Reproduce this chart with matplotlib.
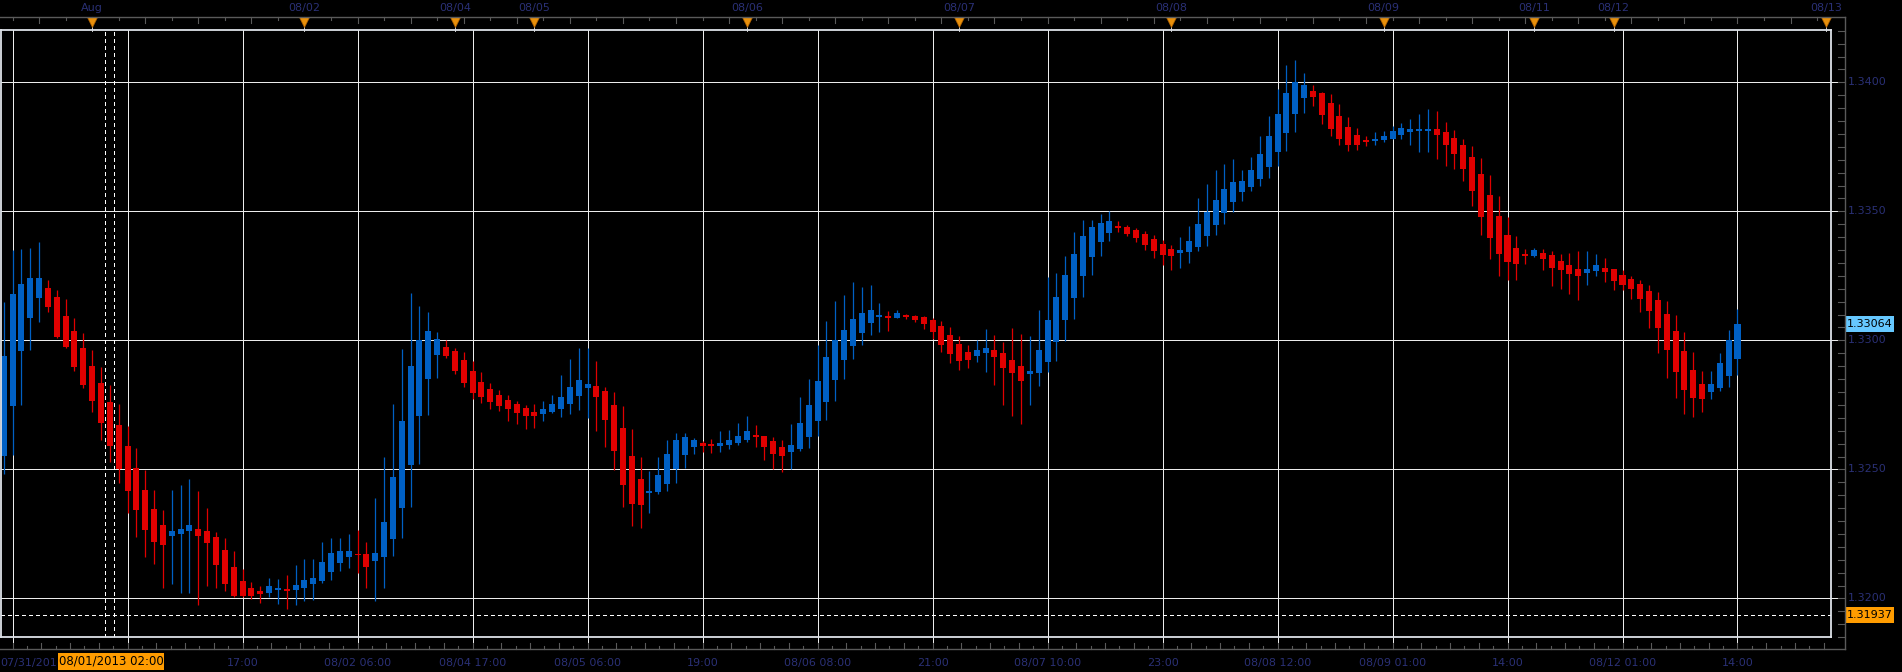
import numpy as np
import matplotlib
matplotlib.use("Agg")
import matplotlib.pyplot as plt
from matplotlib.transforms import blended_transform_factory as blend
from matplotlib.lines import Line2D
from matplotlib.patches import Rectangle

# hourly candles, first one is 07/31 14:00, last one 08/12 14:00
opens = [1.32552, 1.32745, 1.32959, 1.33087, 1.33164, 1.33202, 1.33167, 1.33093, 1.33035, 1.32969,
         1.32899, 1.32833, 1.32760, 1.32674, 1.32589, 1.32504, 1.32422, 1.32345, 1.32283, 1.32242,
         1.32249, 1.32261, 1.32271, 1.32260, 1.32240, 1.32186, 1.32120, 1.32066, 1.32039, 1.32027,
         1.32021, 1.32031, 1.32035, 1.32032, 1.32040, 1.32056, 1.32067, 1.32102, 1.32137, 1.32160,
         1.32171, 1.32171, 1.32145, 1.32160, 1.32230, 1.32350, 1.32517, 1.32707, 1.32850, 1.32943,
         1.32974, 1.32959, 1.32924, 1.32881, 1.32838, 1.32811, 1.32788, 1.32769, 1.32753, 1.32738,
         1.32722, 1.32716, 1.32722, 1.32735, 1.32755, 1.32786, 1.32817, 1.32823, 1.32804, 1.32749,
         1.32660, 1.32552, 1.32463, 1.32410, 1.32412, 1.32444, 1.32501, 1.32557, 1.32588, 1.32602,
         1.32598, 1.32592, 1.32596, 1.32603, 1.32615, 1.32633, 1.32629, 1.32610, 1.32587, 1.32568,
         1.32580, 1.32627, 1.32689, 1.32762, 1.32848, 1.32925, 1.32979, 1.33030, 1.33068, 1.33092,
         1.33094, 1.33088, 1.33098, 1.33094, 1.33090, 1.33079, 1.33056, 1.33021, 1.32986, 1.32955,
         1.32941, 1.32952, 1.32963, 1.32951, 1.32925, 1.32901, 1.32871, 1.32875, 1.32917, 1.32995,
         1.33079, 1.33165, 1.33251, 1.33324, 1.33382, 1.33417, 1.33443, 1.33439, 1.33428, 1.33412,
         1.33393, 1.33373, 1.33354, 1.33340, 1.33344, 1.33363, 1.33406, 1.33448, 1.33495, 1.33537,
         1.33576, 1.33596, 1.33627, 1.33673, 1.33731, 1.33805, 1.33879, 1.33941, 1.33966, 1.33959,
         1.33920, 1.33870, 1.33827, 1.33796, 1.33776, 1.33774, 1.33778, 1.33782, 1.33797, 1.33809,
         1.33813, 1.33813, 1.33819, 1.33807, 1.33784, 1.33757, 1.33711, 1.33645, 1.33563, 1.33482,
         1.33408, 1.33358, 1.33331, 1.33328, 1.33338, 1.33331, 1.33307, 1.33292, 1.33276, 1.33262,
         1.33270, 1.33280, 1.33276, 1.33253, 1.33238, 1.33218, 1.33191, 1.33156, 1.33102, 1.33036,
         1.32959, 1.32885, 1.32831, 1.32801, 1.32817, 1.32863, 1.32929]
highs = [1.33147, 1.33349, 1.33353, 1.33357, 1.33380, 1.33235, 1.33196, 1.33162, 1.33088, 1.33030,
         1.32964, 1.32895, 1.32829, 1.32755, 1.32669, 1.32584, 1.32499, 1.32419, 1.32341, 1.32422,
         1.32438, 1.32461, 1.32415, 1.32349, 1.32256, 1.32236, 1.32182, 1.32116, 1.32063, 1.32050,
         1.32078, 1.32074, 1.32089, 1.32128, 1.32151, 1.32151, 1.32217, 1.32236, 1.32236, 1.32248,
         1.32267, 1.32217, 1.32391, 1.32550, 1.32752, 1.32965, 1.33182, 1.33132, 1.33109, 1.33031,
         1.33001, 1.32970, 1.32955, 1.32920, 1.32877, 1.32835, 1.32807, 1.32788, 1.32765, 1.32749,
         1.32753, 1.32765, 1.32788, 1.32866, 1.32928, 1.32970, 1.32970, 1.32920, 1.32819, 1.32800,
         1.32745, 1.32656, 1.32548, 1.32494, 1.32548, 1.32614, 1.32641, 1.32641, 1.32621, 1.32610,
         1.32618, 1.32649, 1.32652, 1.32680, 1.32707, 1.32672, 1.32630, 1.32625, 1.32614, 1.32676,
         1.32780, 1.32850, 1.32982, 1.33075, 1.33152, 1.33176, 1.33226, 1.33208, 1.33216, 1.33146,
         1.33114, 1.33118, 1.33102, 1.33097, 1.33094, 1.33087, 1.33075, 1.33052, 1.33017, 1.32982,
         1.33003, 1.33044, 1.33022, 1.32994, 1.33048, 1.33025, 1.33017, 1.33118, 1.33247, 1.33261,
         1.33328, 1.33420, 1.33466, 1.33466, 1.33490, 1.33501, 1.33463, 1.33447, 1.33435, 1.33424,
         1.33408, 1.33389, 1.33370, 1.33401, 1.33443, 1.33552, 1.33606, 1.33660, 1.33683, 1.33703,
         1.33660, 1.33711, 1.33792, 1.33870, 1.33974, 1.34067, 1.34087, 1.34036, 1.33990, 1.33963,
         1.33955, 1.33916, 1.33866, 1.33823, 1.33792, 1.33807, 1.33811, 1.33831, 1.33842, 1.33858,
         1.33877, 1.33897, 1.33889, 1.33846, 1.33815, 1.33780, 1.33753, 1.33707, 1.33641, 1.33559,
         1.33478, 1.33404, 1.33354, 1.33358, 1.33354, 1.33346, 1.33335, 1.33339, 1.33346, 1.33346,
         1.33335, 1.33319, 1.33278, 1.33273, 1.33249, 1.33234, 1.33214, 1.33187, 1.33152, 1.33098,
         1.33032, 1.32955, 1.32881, 1.32881, 1.32951, 1.33040, 1.33121]
lows = [1.32483, 1.32554, 1.32749, 1.32963, 1.33071, 1.33110, 1.33010, 1.32970, 1.32881, 1.32815,
        1.32722, 1.32614, 1.32528, 1.32447, 1.32331, 1.32238, 1.32160, 1.32134, 1.32040, 1.32056,
        1.32021, 1.32021, 1.31974, 1.32048, 1.32040, 1.32028, 1.32007, 1.32005, 1.31997, 1.31982,
        1.32007, 1.31978, 1.31959, 1.31974, 1.31990, 1.31994, 1.32059, 1.32071, 1.32106, 1.32118,
        1.32098, 1.32040, 1.31990, 1.32040, 1.32164, 1.32234, 1.32354, 1.32521, 1.32711, 1.32854,
        1.32933, 1.32870, 1.32819, 1.32773, 1.32757, 1.32734, 1.32727, 1.32687, 1.32676, 1.32656,
        1.32660, 1.32687, 1.32718, 1.32703, 1.32714, 1.32730, 1.32700, 1.32649, 1.32588, 1.32497,
        1.32355, 1.32282, 1.32274, 1.32332, 1.32406, 1.32417, 1.32448, 1.32506, 1.32561, 1.32568,
        1.32565, 1.32568, 1.32580, 1.32596, 1.32607, 1.32588, 1.32537, 1.32503, 1.32491, 1.32503,
        1.32572, 1.32584, 1.32630, 1.32693, 1.32766, 1.32851, 1.32929, 1.32983, 1.33022, 1.33034,
        1.33037, 1.33085, 1.33084, 1.33072, 1.33045, 1.33006, 1.32956, 1.32913, 1.32886, 1.32894,
        1.32917, 1.32879, 1.32828, 1.32751, 1.32708, 1.32677, 1.32751, 1.32824, 1.32879, 1.32921,
        1.32999, 1.33084, 1.33169, 1.33255, 1.33328, 1.33386, 1.33421, 1.33406, 1.33382, 1.33351,
        1.33320, 1.33293, 1.33274, 1.33282, 1.33301, 1.33348, 1.33367, 1.33410, 1.33452, 1.33499,
        1.33541, 1.33580, 1.33599, 1.33630, 1.33677, 1.33735, 1.33809, 1.33882, 1.33910, 1.33840,
        1.33793, 1.33758, 1.33735, 1.33739, 1.33755, 1.33758, 1.33770, 1.33780, 1.33782, 1.33758,
        1.33731, 1.33731, 1.33704, 1.33677, 1.33665, 1.33619, 1.33522, 1.33410, 1.33317, 1.33251,
        1.33235, 1.33235, 1.33297, 1.33324, 1.33274, 1.33212, 1.33200, 1.33181, 1.33158, 1.33216,
        1.33251, 1.33227, 1.33196, 1.33196, 1.33162, 1.33111, 1.33049, 1.32952, 1.32855, 1.32778,
        1.32716, 1.32704, 1.32724, 1.32774, 1.32805, 1.32820, 1.32867]
closes = [1.32938, 1.33178, 1.33217, 1.33240, 1.33240, 1.33129, 1.33013, 1.32974, 1.32897, 1.32827,
          1.32765, 1.32680, 1.32590, 1.32501, 1.32416, 1.32342, 1.32265, 1.32218, 1.32207, 1.32260,
          1.32271, 1.32283, 1.32242, 1.32214, 1.32129, 1.32056, 1.32009, 1.32009, 1.32009, 1.32017,
          1.32047, 1.32039, 1.32028, 1.32054, 1.32070, 1.32078, 1.32140, 1.32178, 1.32182, 1.32182,
          1.32167, 1.32121, 1.32178, 1.32298, 1.32469, 1.32686, 1.32899, 1.33000, 1.33035, 1.33004,
          1.32939, 1.32882, 1.32836, 1.32797, 1.32782, 1.32762, 1.32747, 1.32734, 1.32718, 1.32708,
          1.32708, 1.32734, 1.32753, 1.32780, 1.32819, 1.32846, 1.32831, 1.32782, 1.32693, 1.32572,
          1.32441, 1.32367, 1.32363, 1.32416, 1.32478, 1.32559, 1.32614, 1.32625, 1.32614, 1.32592,
          1.32592, 1.32602, 1.32614, 1.32629, 1.32649, 1.32627, 1.32588, 1.32561, 1.32553, 1.32594,
          1.32680, 1.32749, 1.32842, 1.32935, 1.33001, 1.33040, 1.33083, 1.33106, 1.33118, 1.33098,
          1.33088, 1.33106, 1.33092, 1.33079, 1.33065, 1.33034, 1.32983, 1.32948, 1.32921, 1.32925,
          1.32963, 1.32970, 1.32937, 1.32894, 1.32875, 1.32844, 1.32881, 1.32963, 1.33079, 1.33168,
          1.33253, 1.33335, 1.33404, 1.33439, 1.33455, 1.33463, 1.33437, 1.33413, 1.33398, 1.33371,
          1.33348, 1.33332, 1.33328, 1.33350, 1.33385, 1.33451, 1.33497, 1.33544, 1.33587, 1.33614,
          1.33618, 1.33660, 1.33722, 1.33792, 1.33877, 1.33959, 1.34001, 1.33990, 1.33944, 1.33875,
          1.33820, 1.33782, 1.33758, 1.33758, 1.33770, 1.33780, 1.33792, 1.33811, 1.33823, 1.33819,
          1.33815, 1.33819, 1.33797, 1.33758, 1.33724, 1.33665, 1.33580, 1.33479, 1.33398, 1.33336,
          1.33305, 1.33297, 1.33328, 1.33350, 1.33317, 1.33282, 1.33274, 1.33258, 1.33251, 1.33276,
          1.33292, 1.33266, 1.33231, 1.33216, 1.33200, 1.33162, 1.33115, 1.33049, 1.32964, 1.32879,
          1.32809, 1.32778, 1.32774, 1.32831, 1.32912, 1.33001, 1.33064]

# bottom time labels, one per vertical gridline (every 13 candles from candle 1)
# the second one sits under the cursor box and is not shown
time_labels = ['07/31/2013 15:00', '08/01 04:00', '17:00', '08/02 06:00', '08/04 17:00',
               '08/05 06:00', '19:00', '08/06 08:00', '21:00', '08/07 10:00', '23:00',
               '08/08 12:00', '08/09 01:00', '14:00', '08/12 01:00', '14:00']
# day markers on the top axis (candle position of the day start)
day_labels = ['Aug', '08/02', '08/04', '08/05', '08/06', '08/07', '08/08', '08/09', '08/11', '08/12', '08/13']
day_pos = [10, 34, 51, 60, 84, 108, 132, 156, 173, 182, 206]

price_levels = [1.3200, 1.3250, 1.3300, 1.3350, 1.3400]
last_price = 1.33064
mark_price = 1.31937
cursor_label = '08/01/2013 02:00'
cursor_idx = 12

W, H = 1902, 672
def fx(px):
    return px / W
def fy(px):
    return 1 - px / H

navy = '#2a3075'
gridc = '#ececec'
axisc = '#5a5a5a'
up_c, dn_c = '#0060c4', '#e00000'
glw = 0.7  # ~1 px lines

fig = plt.figure(figsize=(W / 100, H / 100), dpi=100, facecolor='black')
ax = fig.add_axes([fx(1), fy(636.5), fx(1830), (636.5 - 30) / H])
ax.set_facecolor('black')
ax.set_xlim(-0.305, 206.57)
ax.set_ylim(1.318525, 1.342027)
ax.set_xticks([])
ax.set_yticks([])
for s in ax.spines.values():
    s.set_color('#dde1e8')
    s.set_linewidth(1.3)

xb = blend(ax.transData, fig.transFigure)  # x in candles, y in figure
yb = blend(fig.transFigure, ax.transData)  # x in figure, y in price

# grid
grid_idx = [1 + 13 * k for k in range(len(time_labels))]
for i in grid_idx:
    ax.axvline(i, color=gridc, lw=glw, zorder=0.5, antialiased=False)
    ax.plot([i, i], [fy(636.5), fy(649)], transform=xb, clip_on=False, color=gridc,
            lw=glw, antialiased=False)
for p in price_levels:
    ax.axhline(p, color=gridc, lw=glw, zorder=0.5, antialiased=False)
    ax.plot([fx(1831), fx(1845)], [p, p], transform=yb, clip_on=False, color=gridc,
            lw=glw, antialiased=False)
    ax.text(fx(1848), p, f'{p:.4f}', transform=yb, color=navy, fontsize=8,
            va='center', ha='left', zorder=3)

# cursor lines
for xc in (cursor_idx - 0.5, cursor_idx + 0.5):
    ax.axvline(xc, color='white', lw=glw, ls=(0, (4, 4)), zorder=0.6, antialiased=False)
ax.axhline(mark_price, color='white', lw=glw, ls=(0, (4, 4)), zorder=0.6, antialiased=False)

# candles
o = np.array(opens)
h = np.array(highs)
l = np.array(lows)
c = np.array(closes)
x = np.arange(len(o))
cols = np.where(c >= o, up_c, dn_c)
lo = np.minimum(o, c)
hgt = np.maximum(np.abs(c - o), 0.00005)
ax.vlines(x, l, h, colors=cols, lw=0.9, zorder=2)
ax.bar(x, hgt, bottom=lo, width=0.68, color=cols, linewidth=0, zorder=2.2)

# axis lines outside the frame
fig.add_artist(Line2D([fx(1845), fx(1845)], [fy(17), fy(649)], color=axisc, lw=1))
fig.add_artist(Line2D([0, fx(1845)], [fy(17.3), fy(17.3)], color=axisc, lw=1))
fig.add_artist(Line2D([0, fx(1845)], [fy(649), fy(649)], color=axisc, lw=1))

# right axis minor ticks
for p in np.arange(13185, 13421, 5) / 10000:
    ax.plot([fx(1838), fx(1845)], [p, p], transform=yb, clip_on=False, color=axisc, lw=0.8)

# top axis ticks every 3 candles
for j, i in enumerate(range(1, 207, 3)):
    ln = 6 if j % 2 else 3
    ax.plot([i, i], [fy(17.3), fy(17.3 + ln)], transform=xb, clip_on=False, color=axisc, lw=0.8)

# bottom axis ticks
for j in range(0, 130):
    i = 1 + j * 13 / 8
    if i > 206.5:
        break
    ln = 6 if j % 2 == 0 else 3
    ax.plot([i, i], [fy(649), fy(649 - ln)], transform=xb, clip_on=False, color=axisc, lw=0.8)

# day markers
for lab, pos in zip(day_labels, day_pos):
    ax.plot([pos, pos], [fy(22), fy(31)], transform=xb, clip_on=False, color='#c8c8c8', lw=0.7)
    ax.plot([pos], [fy(21.5)], transform=xb, clip_on=False, marker='v', ms=6.5,
            color='#e8900c', mec='#b06000', mew=0.5, zorder=4)
    ax.text(pos, fy(8), lab, transform=xb, color=navy, fontsize=8, ha='center', va='center')

# bottom time labels; only the start of the first one shows left of the cursor box
ax.text(fx(0), fy(663), time_labels[0][:9], transform=fig.transFigure, color=navy,
        fontsize=8, ha='left', va='center')
for i, lab in zip(grid_idx[2:], time_labels[2:]):
    ax.text(i, fy(663), lab, transform=xb, color=navy, fontsize=8, ha='center', va='center')

# cursor time box
fig.add_artist(Rectangle((fx(58), fy(670)), fx(106), 17 / H, transform=fig.transFigure,
                         facecolor='#ff9c00', edgecolor='none', zorder=5))
fig.text(fx(111), fy(661.5), cursor_label, color='black', fontsize=8.5,
         ha='center', va='center', zorder=6)

# price boxes on the right
for p, fc in [(last_price, '#66c8ff'), (mark_price, '#ff9c00')]:
    ax.add_patch(Rectangle((fx(1846), p - 0.00031), fx(48), 0.00062, transform=yb,
                           facecolor=fc, edgecolor='none', clip_on=False, zorder=5))
    ax.text(fx(1870), p, f'{p:.5f}', transform=yb, color='black', fontsize=8,
            ha='center', va='center', zorder=6)

fig.savefig('out.png', dpi=100, facecolor='black')
